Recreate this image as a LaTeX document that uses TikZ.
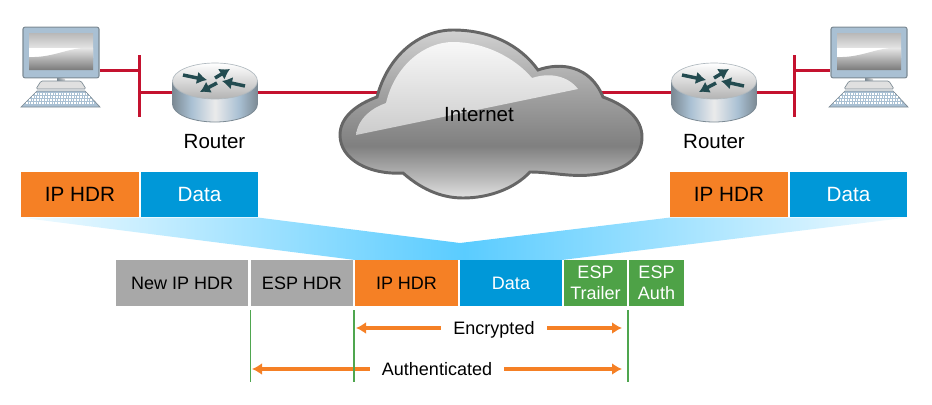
\documentclass[tikz,border=0pt]{standalone}
\usepackage{fontspec}
\setmainfont{Liberation Sans}
\usepackage{xcolor}
\usepackage{tikz}
\usetikzlibrary{arrows.meta,backgrounds,calc}
\definecolor{wirered}{HTML}{C4122F}
\definecolor{hdrorange}{HTML}{F58025}
\definecolor{datablue}{HTML}{0098D8}
\definecolor{espgreen}{HTML}{4EA247}
\definecolor{hdrgrey}{HTML}{A8A8A8}
\definecolor{rulegreen}{HTML}{4FA64F}
\definecolor{funnelblue}{HTML}{5ACCFF}
\definecolor{cloudedge}{HTML}{666666}
\definecolor{monitorblue}{HTML}{A9C0D3}
\definecolor{iconedge}{HTML}{7C8A94}
\definecolor{routerarrow}{HTML}{234B50}
\pgfdeclareverticalshading{cloudbody}{100bp}{
  color(0bp)=(white!88!black);color(25bp)=(white!88!black);color(32bp)=(black!30);color(40.5bp)=(black!50);
  color(57bp)=(black!36);color(75bp)=(black!18);color(100bp)=(black!18)}
\pgfdeclareverticalshading{cloudshine}{100bp}{
  color(0bp)=(black!20);color(25bp)=(black!20);color(75bp)=(black!3);color(100bp)=(black!3)}
\pgfdeclarehorizontalshading{routerside}{100bp}{
  color(0bp)=(iconedge);color(25bp)=(iconedge);color(36bp)=(monitorblue);color(50bp)=(white!92!black);
  color(64bp)=(monitorblue);color(75bp)=(iconedge);color(100bp)=(iconedge)}
\pgfdeclarehorizontalshading{funnelfade}{100bp}{
  color(0bp)=(funnelblue!8);color(25bp)=(funnelblue!8);color(50bp)=(funnelblue);
  color(75bp)=(funnelblue!8);color(100bp)=(funnelblue!8)}
\tikzset{
  wire/.style={draw=wirered,line width=2.25pt},
  pkt/.style={inner sep=0pt,minimum height=34.2pt,font=\fontsize{13.5}{15.5}\selectfont,align=center},
  bigpkt/.style={pkt,font=\fontsize{15.5}{17}\selectfont},
  caption/.style={font=\fontsize{15.4}{17}\selectfont,inner sep=0pt},
  span/.style={font=\fontsize{13.5}{15}\selectfont,inner ysep=0pt,inner xsep=9pt,fill=white,
               text height=12.4pt,text depth=3pt},
  spanarrow/.style={{Latex[length=7.5pt,width=9pt]}-,draw=hdrorange,line width=2.3pt},
  edgeline/.style={draw=rulegreen,line width=1.1pt},
  monitor/.style={draw=iconedge,fill=monitorblue,line width=.8pt,rounded corners=1.5pt,
                  inner sep=0pt,minimum width=57pt,minimum height=38pt},
  routerbox/.style={inner sep=0pt,minimum width=63.5pt,minimum height=44pt}
}
\begin{document}
\begin{tikzpicture}[x=.75pt,y=-.75pt]
  \useasboundingbox (0,0) rectangle (932,404);
  % Upper packets
  \node[bigpkt,fill=hdrorange,minimum width=88.5pt] (hdra) at (80,194.5) {IP HDR};
  \node[bigpkt,fill=datablue,text=white,minimum width=87.75pt] (dataa) at (199.5,194.5) {Data};
  \node[bigpkt,fill=hdrorange,minimum width=88.5pt] (hdrb) at (729,194.5) {IP HDR};
  \node[bigpkt,fill=datablue,text=white,minimum width=87.75pt] (datab) at (848.5,194.5) {Data};
  % Tunnel packet
  \node[pkt,fill=hdrgrey,minimum width=99.4pt] (newhdr) at (182.2,283) {New IP HDR};
  \node[pkt,fill=hdrgrey,minimum width=76.5pt] (esphdr) at (302,283) {ESP HDR};
  \node[pkt,fill=hdrorange,minimum width=77.2pt] (innerhdr) at (406.5,283) {IP HDR};
  \node[pkt,fill=datablue,text=white,minimum width=76.5pt] (innerdata) at (511,283) {Data};
  \node[pkt,fill=espgreen,text=white,minimum width=47.2pt] (trailer) at (595.5,283) {ESP\\Trailer};
  \node[pkt,fill=espgreen,text=white,minimum width=41.2pt] (auth) at (656.5,283) {ESP\\Auth};
  \coordinate (apex) at (460,243);
  \shade[shading=funnelfade]
    (hdra.south west) -- (innerhdr.north west) -- (innerdata.north east) -- (datab.south east)
    -- (hdrb.south west) -- (apex) -- (dataa.south east) -- cycle;

  % End hosts and routers
  \foreach \n/\x in {a/0,b/808}{
    \begin{scope}[shift={(\x,0)}]
      \node[monitor] (pc\n) at (61,52.5) {};
      \shade[top color=black!28,bottom color=white] (29,33) rectangle (93,57);
      \fill[white] (29,48) rectangle (93,58);
      \shade[top color=black!6,bottom color=black!52]
        (29,57) .. controls (55,58) and (70,46) .. (93,48) -- (93,70) -- (29,70) -- cycle;
      \shade[left color=iconedge,right color=white!85!black] (57,78) rectangle (65,82);
      \filldraw[fill=white!88!black,draw=iconedge,line width=.5pt,rounded corners=1pt]
        (41,81) -- (81,81) -- (86,89) -- (36,89) -- cycle;
      \filldraw[fill=monitorblue,draw=iconedge,line width=.5pt]
        (37,91) -- (85,91) -- (100,107) -- (21,107) -- cycle;
      \foreach \k/\a/\b in {94/35/87,97/32/90,100/29/93,103/26/95}
        \draw[white,line width=1.2pt,dash pattern=on 1.3pt off .7pt] (\a,\k) -- (\b,\k);
    \end{scope}
  }
  \foreach \n/\x in {a/0,b/499}{
    \begin{scope}[shift={(\x,0)}]
      \node[routerbox] (router\n) at (215,92.5) {};
      \shade[shading=routerside,draw=iconedge,line width=.6pt]
        (172.5,81) -- (172.5,104) arc[start angle=180,end angle=0,x radius=42.5,y radius=18]
        -- (257.5,81) -- cycle;
      \shade[top color=white,bottom color=black!30,draw=iconedge!60,line width=.5pt]
        (215,81) ellipse[x radius=42.5,y radius=18];
      \foreach \p/\q in {{183,75}/{207,80},{215,78}/{230,69},{245,86}/{222,81},{217,83}/{200,92}}
        \draw[-{Latex[length=7.5pt,width=9.5pt]},routerarrow,line width=2.6pt] (\p) -- (\q);
    \end{scope}
  }
  \node[caption] (lblrouter) at (214.5,142) {Router};
  \node[caption] (lblrouterb) at (714,142) {Router};

  % Internet cloud
  \shade[shading=cloudbody,draw=cloudedge,line width=2.2pt]
    (377,97) .. controls (388,55) and (420,30) .. (453,30)
    .. controls (490,30) and (520,45) .. (538,70)
    .. controls (560,62) and (590,65) .. (603,97)
    .. controls (625,105) and (642,118) .. (642,137)
    .. controls (642,158) and (625,172) .. (590,175)
    .. controls (570,177) and (550,172) .. (530,172)
    .. controls (515,188) and (490,198) .. (463,198)
    .. controls (440,198) and (420,188) .. (403,173)
    .. controls (370,175) and (340,160) .. (340,135)
    .. controls (340,118) and (355,105) .. (377,97) -- cycle;
  \shade[shading=cloudshine]
    (356,135) .. controls (358,118) and (372,108) .. (386,103)
    .. controls (395,65) and (425,42) .. (453,42)
    .. controls (485,42) and (515,58) .. (532,78)
    .. controls (550,72) and (568,76) .. (578,89) -- cycle;
  \node[caption] (cloud) at (479,115) {Internet};

  % Encrypted and authenticated spans
  \coordinate (marka) at ($(esphdr.south west)+(-.5,4)$);
  \coordinate (markb) at ($(innerhdr.south west)+(-1,4)$);
  \coordinate (markc) at ($(auth.south west)+(-1,4)$);
  \draw[edgeline] (marka) -- (marka |- 0,382);
  \draw[edgeline] (markb) -- (markb |- 0,382);
  \draw[edgeline] (markc) -- (markc |- 0,382);
  \node[span] (encrypted) at (494,328) {Encrypted};
  \node[span] (authenticated) at (437,369) {Authenticated};
  \begin{scope}[on background layer]
    \coordinate (enca) at (356,328);
    \coordinate (encb) at (622,328);
    \coordinate (authenta) at (252,369);
    \coordinate (authentb) at (622,369);
    \draw[spanarrow] (enca) -- (encrypted);
    \draw[spanarrow] (encb) -- (encrypted);
    \draw[spanarrow] (authenta) -- (authenticated);
    \draw[spanarrow] (authentb) -- (authenticated);
    % Red links
    \coordinate (busat) at (139,55);
    \coordinate (busab) at (139,117);
    \coordinate (busbt) at (794,55);
    \coordinate (busbb) at (794,117);
    \draw[wire] (busat) -- (busab);
    \draw[wire] (busbt) -- (busbb);
    \draw[wire] (pca.east |- 0,70.5) -- (busat |- 0,70.5);
    \draw[wire] (pcb.west |- 0,70.5) -- (busbt |- 0,70.5);
    \draw[wire] (routera.west) -- (routera.west -| busat);
    \draw[wire] (routerb.east) -- (routerb.east -| busbt);
    \draw[wire] (routera.east) -- (routera.east -| cloud);
    \draw[wire] (routerb.west) -- (routerb.west -| cloud);
  \end{scope}
\end{tikzpicture}
\end{document}
